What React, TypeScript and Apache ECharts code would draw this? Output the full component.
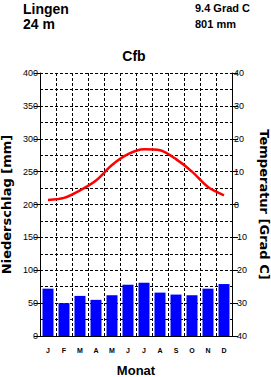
import React, { useEffect, useRef } from "react";
import * as echarts from "echarts";

const months = ["J", "F", "M", "A", "M", "J", "J", "A", "S", "O", "N", "D"];
const precipitation = [72, 50, 61, 55, 62, 78, 81, 66, 63, 62, 72, 79];
const temperature = [1.4, 2.0, 4.3, 7.3, 12.0, 15.3, 16.8, 16.5, 13.8, 10.0, 5.3, 2.8];
const station = "Lingen";
const altitude = "24 m";
const meanTemp = "9.4 Grad C";
const totalPrecip = "801 mm";
const climateClass = "Cfb";

const FONT = "'Liberation Sans', Arial, sans-serif";
const TFONT = "'DejaVu Sans', sans-serif";
const dash = [3, 2];

export default function App() {
  const ref = useRef<HTMLDivElement>(null);
  useEffect(() => {
    if (!ref.current) return;
    const chart = echarts.init(ref.current, null, { renderer: "svg" });
    chart.setOption({
      animation: false,
      backgroundColor: "#fff",
      textStyle: { fontFamily: FONT },
      grid: { left: 40, right: 39, top: 73, bottom: 41, containLabel: false, outerBoundsMode: "none" },
      graphic: [
        { type: "text", x: 23, y: 16, style: { text: station, font: `bold 14px ${FONT}`, fill: "#000", textVerticalAlign: "bottom" } },
        { type: "text", x: 23, y: 31, style: { text: altitude, font: `bold 14px ${FONT}`, fill: "#000", textVerticalAlign: "bottom" } },
        { type: "text", x: 195, y: 13, style: { text: meanTemp, font: `bold 11px ${FONT}`, fill: "#000", textVerticalAlign: "bottom" } },
        { type: "text", x: 195, y: 29, style: { text: totalPrecip, font: `bold 11px ${FONT}`, fill: "#000", textVerticalAlign: "bottom" } },
        { type: "text", x: 134, y: 63, style: { text: climateClass, font: `bold 14px ${FONT}`, fill: "#000", textAlign: "center", textVerticalAlign: "bottom" } },
      ],
      xAxis: {
        type: "category",
        data: months,
        boundaryGap: true,
        name: "Monat",
        nameLocation: "middle",
        nameGap: 28,
        nameMoveOverlap: false,
        nameTextStyle: { fontFamily: FONT, fontWeight: "bold", fontSize: 13, color: "#000" },
        axisLine: { lineStyle: { color: "#000", width: 1 } },
        axisTick: { show: false },
        axisLabel: { margin: 11, fontSize: 7, fontWeight: "bold", color: "#000", fontFamily: FONT, interval: 0 },
        splitLine: { show: true, interval: 0, lineStyle: { color: "#000", type: dash, width: 1 } },
      },
      yAxis: [
        {
          type: "value",
          min: 0,
          max: 400,
          interval: 50,
          name: "Niederschlag [mm]",
          nameLocation: "middle",
          nameGap: 27,
          nameMoveOverlap: false,
          nameTextStyle: { fontFamily: TFONT, fontWeight: "bold", fontSize: 13, color: "#000" },
          axisLine: { show: true, lineStyle: { color: "#000", width: 1 } },
          axisTick: { show: true, length: 6, lineStyle: { color: "#000" } },
          axisLabel: { margin: 2, fontSize: 9, color: "#000", fontFamily: FONT },
          splitLine: { show: true, lineStyle: { color: "#000", type: dash, width: 1 } },
          minorTick: { show: false, splitNumber: 2 },
          minorSplitLine: { show: true, lineStyle: { color: "#000", type: dash, width: 1 } },
        },
        {
          type: "value",
          min: -40,
          max: 40,
          interval: 10,
          position: "right",
          name: "Temperatur [Grad C]",
          nameLocation: "middle",
          nameGap: 26,
          nameRotate: -90,
          nameMoveOverlap: false,
          nameTextStyle: { fontFamily: TFONT, fontWeight: "bold", fontSize: 13, color: "#000" },
          axisLine: { show: true, lineStyle: { color: "#000", width: 1 } },
          axisTick: { show: true, length: 6, lineStyle: { color: "#000" } },
          axisLabel: { margin: 2, fontSize: 9, color: "#000", fontFamily: FONT },
          splitLine: { show: false },
        },
      ],
      series: [
        {
          type: "bar",
          data: precipitation,
          yAxisIndex: 0,
          barWidth: 11,
          itemStyle: { color: "#0000ff" },
        },
        {
          type: "line",
          data: temperature,
          yAxisIndex: 1,
          smooth: 0.3,
          symbol: "none",
          lineStyle: { color: "#ff0000", width: 2.5 },
        },
      ],
    });
    return () => chart.dispose();
  }, []);
  return <div ref={ref} style={{ position: "absolute", left: 0, top: 0, width: 271, height: 377 }} />;
}
